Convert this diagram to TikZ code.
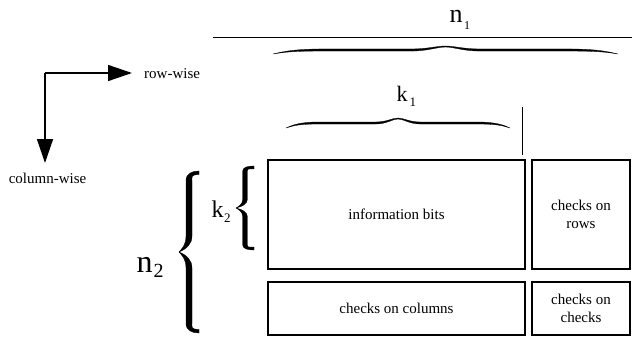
\documentclass[tikz,border=0pt]{standalone}
\usepackage{fontspec}
\setmainfont{Liberation Serif}
\usetikzlibrary{arrows.meta}
% gentle horizontal brace: u along length (0..2), v towards the tip (0..1)
\newcommand\hbracefill{%
  \filldraw[line width=0.3pt]
    (0,0) .. controls (0.06,0.3) and (0.12,0.5+\bh) .. (0.3,0.5+\bh)
    -- (0.8,0.5+\bh) .. controls (0.9,0.5+\bh) and (0.95,1) .. (1,1)
    .. controls (1.05,1) and (1.1,0.5+\bh) .. (1.2,0.5+\bh)
    -- (1.7,0.5+\bh) .. controls (1.88,0.5+\bh) and (1.94,0.3) .. (2,0)
    .. controls (1.93,0.25) and (1.88,0.5-\bh) .. (1.7,0.5-\bh)
    -- (1.2,0.5-\bh) .. controls (1.1,0.5-\bh) and (1.05,1-\bh) .. (1,1-\bh)
    .. controls (0.95,1-\bh) and (0.9,0.5-\bh) .. (0.8,0.5-\bh)
    -- (0.3,0.5-\bh) .. controls (0.12,0.5-\bh) and (0.07,0.25) .. (0,0) -- cycle;}
% glyph-like vertical brace with blunt hooked ends
\newcommand\vbracefill{%
  \filldraw[line width=0.3pt]
    (0,0) .. controls (0,0.35) and (0.03,0.5+\bh) .. (0.12,0.5+\bh)
    -- (0.8,0.5+\bh) .. controls (0.92,0.5+\bh) and (0.97,0.9) .. (1,1)
    .. controls (1.03,0.9) and (1.08,0.5+\bh) .. (1.2,0.5+\bh)
    -- (1.88,0.5+\bh) .. controls (1.97,0.5+\bh) and (2,0.35) .. (2,0)
    -- (2-\be,0) .. controls (2-\be,0.4) and (1.93,0.5-\bh) .. (1.88,0.5-\bh)
    -- (1.2,0.5-\bh) .. controls (1.1,0.5-\bh) and (1.04,0.75-\bh) .. (1,1)
    .. controls (0.96,0.75-\bh) and (0.9,0.5-\bh) .. (0.8,0.5-\bh)
    -- (0.12,0.5-\bh) .. controls (0.07,0.5-\bh) and (\be,0.4) .. (\be,0) -- cycle;}
\begin{document}
\begin{tikzpicture}[x=1pt,y=-1pt,
  lbl/.style={font=\fontsize{15}{18}\selectfont, inner sep=0pt},
  blk/.style={draw, line width=1.5pt, inner sep=0pt, font=\fontsize{15}{18}\selectfont, align=center},
  thin/.style={line width=0.8pt},
  dirarrow/.style={line width=1.5pt, -{Triangle[length=24pt,width=16pt]}}
]
\useasboundingbox (0,0) rectangle (632,337);

% blocks
\node[blk, minimum width=257pt, minimum height=109pt] (info) at (396.5,214.5) {information bits};
\node[blk, minimum width=98pt, minimum height=109pt] (rows) at (581,214.5) {checks on\\rows};
\node[blk, minimum width=257pt, minimum height=53pt] (cols) at (396.5,308.5) {checks on columns};
\node[blk, minimum width=98pt, minimum height=53pt] (cc) at (581,308.5) {checks on\\checks};

% direction arrows
\coordinate (corner) at (45,73);
\coordinate (rtip) at (132,73);
\coordinate (dtip) at (45,163);
\draw[dirarrow] (corner) -- (rtip);
\draw[dirarrow] (corner) -- (dtip);
\node[lbl, anchor=base west] (roww) at (144,78) {row-wise};
\node[lbl, anchor=base] (colw) at (47.5,183) {column-wise};

% top line and n1 brace
\coordinate (tl) at (213,37.5);
\coordinate (tr) at (632,37.5);
\draw[thin] (tl) -- (tr);
\begin{scope}[shift={(273,54)}, x={(172.5pt,0pt)}, y={(0pt,8pt)}]
  \def\bh{0.13}\hbracefill
\end{scope}
\node[inner sep=0pt, anchor=base west] (n1) at (449.5,23)
  {\fontsize{26}{26}\selectfont n\hspace{1.5pt}\raisebox{-7pt}{\fontsize{12}{12}\selectfont 1}};

% k1 brace and separator
\begin{scope}[shift={(286,128)}, x={(112pt,0pt)}, y={(0pt,10pt)}]
  \def\bh{0.1}\hbracefill
\end{scope}
\node[inner sep=0pt, anchor=base west] (k1) at (396.5,102)
  {\fontsize{22}{22}\selectfont k\hspace{2pt}\raisebox{-5pt}{\fontsize{13}{13}\selectfont 1}};
\coordinate (sept) at (522,107);
\coordinate (sepb) at (522,155);
\draw[thin] (sept) -- (sepb);

% k2 brace
\begin{scope}[shift={(254,166)}, x={(0pt,-42pt)}, y={(-18pt,0pt)}]
  \def\bh{0.13}\def\be{0.07}\vbracefill
\end{scope}
\node[inner sep=0pt, anchor=base west] (k2) at (211.5,217)
  {\fontsize{24}{24}\selectfont k\hspace{0.5pt}\raisebox{-5pt}{\fontsize{13}{13}\selectfont 2}};

% n2 brace
\begin{scope}[shift={(199,171)}, x={(0pt,-81pt)}, y={(-20pt,0pt)}]
  \def\bh{0.15}\def\be{0.045}\vbracefill
\end{scope}
\node[inner sep=0pt, anchor=base west] (n2) at (136.5,272)
  {\fontsize{32}{32}\selectfont n\hspace{1pt}\raisebox{-5pt}{\fontsize{20}{20}\selectfont 2}};
\end{tikzpicture}
\end{document}
